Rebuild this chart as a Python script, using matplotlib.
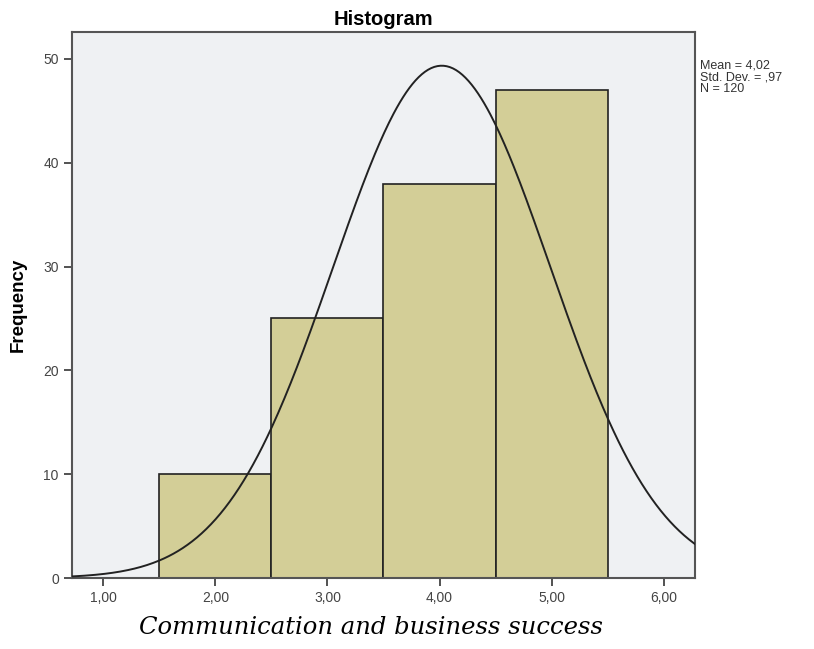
import numpy as np
import matplotlib
matplotlib.use("Agg")
import matplotlib.pyplot as plt

bin_edges = [1.5, 2.5, 3.5, 4.5, 5.5]
frequencies = [10, 25, 38, 47]
mean_val = 4.02
std_val = 0.97
n_val = 120
x_ticks = [1, 2, 3, 4, 5, 6]
x_tick_labels = ["1,00", "2,00", "3,00", "4,00", "5,00", "6,00"]
y_ticks = [0, 10, 20, 30, 40, 50]

fig = plt.figure(figsize=(8.14, 6.49), dpi=100)
ax = fig.add_axes([72/814, 1-578/649, (695-72)/814, (578-32)/649])
ax.set_facecolor("#EFF1F3")

lefts = bin_edges[:-1]
widths = np.diff(bin_edges)
ax.bar(lefts, frequencies, width=widths, align="edge", color="#D3CE97",
       edgecolor="#222222", linewidth=1.2, zorder=2)

xmin, xmax = 0.72, 6.28
xs = np.linspace(xmin, xmax, 400)
bw = widths[0]
ys = n_val * bw / (std_val * np.sqrt(2*np.pi)) * np.exp(-0.5*((xs-mean_val)/std_val)**2)
ax.plot(xs, ys, color="#222222", linewidth=1.4, zorder=3)

ax.set_xlim(xmin, xmax)
ax.set_ylim(0, 52.6)
ax.set_xticks(x_ticks)
ax.set_xticklabels(x_tick_labels)
ax.set_yticks(y_ticks)
for s in ax.spines.values():
    s.set_color("#555555")
    s.set_linewidth(1.5)
ax.tick_params(direction="out", length=6, width=1.3, color="#444444",
               labelsize=10, labelcolor="#444444")
for lab in ax.get_xticklabels() + ax.get_yticklabels():
    lab.set_family("Liberation Sans")

ax.set_title("Histogram", fontsize=14.5, fontweight="bold", family="Liberation Sans", pad=5)
ax.set_ylabel("Frequency", fontsize=13.5, fontweight="bold", family="Liberation Sans", labelpad=12)

fig.text(371/814, 1-628/649, "Communication and business success", fontsize=17.5,
         style="italic", family="DejaVu Serif", ha="center", va="center")

fig.text(700/814, 1-60/649,
         f"Mean = {mean_val:.2f}".replace(".", ",") + "\n" +
         "Std. Dev. = ," + f"{std_val:.2f}".split(".")[1] + "\n" +
         f"N = {n_val}",
         fontsize=9, family="Liberation Sans", color="#333333", va="top", ha="left",
         linespacing=0.95)

fig.savefig("out.png", dpi=100)
